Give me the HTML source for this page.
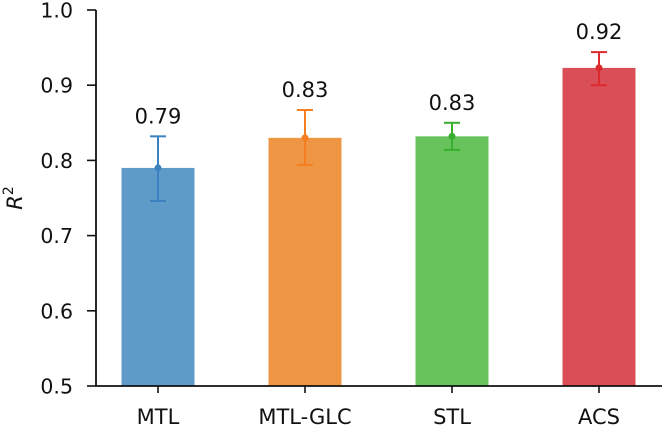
<!DOCTYPE html>
<html><head><meta charset="utf-8"><style>
body{margin:0;background:#fff;}
svg text{font-family:"DejaVu Sans","Liberation Sans",sans-serif;}
</style></head><body>
<svg id="chart" width="666" height="427" viewBox="0 0 666 427" xmlns="http://www.w3.org/2000/svg"></svg>
<script>
const categories = ["MTL", "MTL-GLC", "STL", "ACS"];
const values = [0.790, 0.830, 0.832, 0.923];
const errLow = [0.746, 0.794, 0.814, 0.900];
const errHigh = [0.832, 0.867, 0.850, 0.944];
const valueLabels = ["0.79", "0.83", "0.83", "0.92"];
const yTicks = [0.5, 0.6, 0.7, 0.8, 0.9, 1.0];
const yTickLabels = ["0.5", "0.6", "0.7", "0.8", "0.9", "1.0"];

const fills = ["#5f9bc8", "#ef9645", "#67c35c", "#da4f57"];
const strokes = ["#3d82c0", "#f57f20", "#3aae2e", "#dc2a2f"];
const svg = document.getElementById('chart');
const NS = "http://www.w3.org/2000/svg";
const x0 = 96, x1 = 662, yTop = 10, yBot = 386, yMin = 0.5, yMax = 1.0;
const y = v => yBot - (v - yMin) / (yMax - yMin) * (yBot - yTop);
const step = 147, firstC = 158, bw = 73;
const xc = i => firstC + i * step;
function mk(tag, attrs, parent) {
  const e = document.createElementNS(NS, tag);
  for (const k in attrs) e.setAttribute(k, attrs[k]);
  (parent || svg).appendChild(e);
  return e;
}
categories.forEach((c, i) => {
  const b = mk('rect', {x: xc(i) - bw/2, y: y(values[i]), width: bw, height: yBot - y(values[i]), fill: fills[i]});
  
  
  const g = mk('g', {stroke: strokes[i], 'stroke-width': 2});
  
  
  mk('line', {x1: xc(i), x2: xc(i), y1: y(errLow[i]), y2: y(errHigh[i])}, g);
  mk('line', {x1: xc(i) - 8, x2: xc(i) + 8, y1: y(errLow[i]), y2: y(errLow[i])}, g);
  mk('line', {x1: xc(i) - 8, x2: xc(i) + 8, y1: y(errHigh[i]), y2: y(errHigh[i])}, g);
  mk('circle', {cx: xc(i), cy: y(values[i]), r: 3.5, fill: strokes[i], stroke: 'none'}, g);
  const t = mk('text', {x: xc(i), y: y(errHigh[i]) - 13, 'text-anchor': 'middle', 'font-size': 21, fill: '#111'});
  t.textContent = valueLabels[i];
  
  
  mk('line', {x1: xc(i), x2: xc(i), y1: yBot, y2: yBot + 7, stroke: '#111', 'stroke-width': 1.6});
  const xl = mk('text', {x: xc(i), y: 424, 'text-anchor': 'middle', 'font-size': 21, fill: '#111'});
  xl.textContent = c;
  
  
});
yTicks.forEach((v, i) => {
  mk('line', {x1: x0 - 9, x2: x0, y1: y(v), y2: y(v), stroke: '#111', 'stroke-width': 1.6});
  const t = mk('text', {x: 73, y: y(v) + 7.5, 'text-anchor': 'end', 'font-size': 20.5, fill: '#111'});
  t.textContent = yTickLabels[i];
  
  
});
const ax = mk('path', {d: `M${x0},${yTop} V${yBot} H${x1}`, fill: 'none', stroke: '#111', 'stroke-width': 1.8});


const yl = mk('text', {transform: 'translate(22,198) rotate(-90)', 'text-anchor': 'middle', 'font-size': 21, fill: '#111'});
yl.innerHTML = '<tspan font-style="italic">R</tspan><tspan dy="-9" font-size="14">2</tspan>';


</script>
</body></html>
